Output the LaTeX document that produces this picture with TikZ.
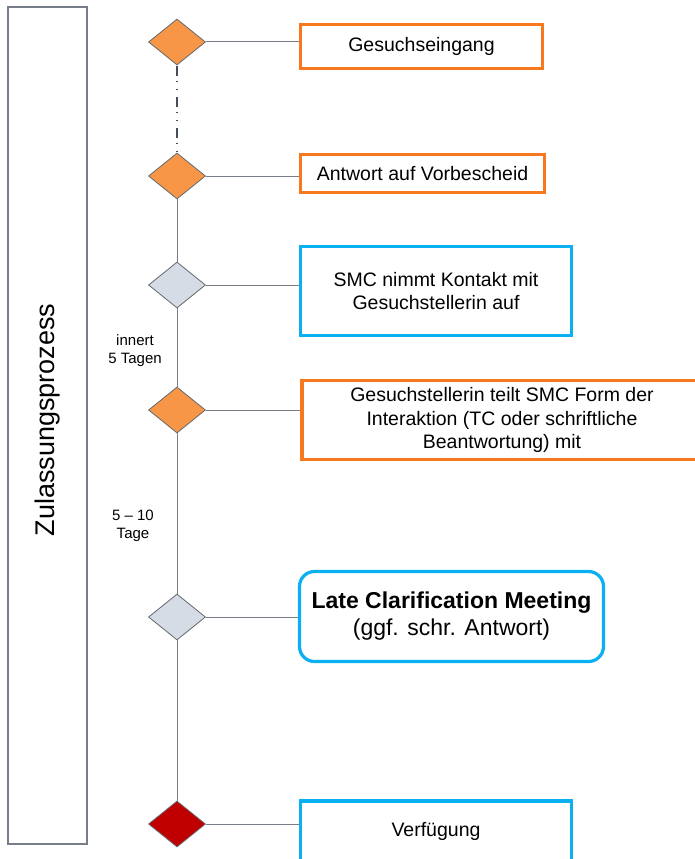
\documentclass[tikz,border=0pt]{standalone}
\usepackage{fontspec}
\setmainfont{Liberation Sans}
\usetikzlibrary{shapes.geometric}
\definecolor{orangefill}{RGB}{247,150,70}
\definecolor{orangeline}{RGB}{247,120,30}
\definecolor{blueline}{RGB}{10,176,240}
\definecolor{grayfill}{RGB}{214,220,229}
\definecolor{redfill}{RGB}{192,0,0}
\definecolor{diaborder}{RGB}{100,104,110}
\definecolor{conn}{RGB}{120,126,136}
\definecolor{darkconn}{RGB}{70,78,92}
\tikzset{
  dia/.style={diamond, draw=diaborder, line width=0.8pt, inner sep=0pt,
    minimum width=57pt, minimum height=46pt},
  boxtext/.style={align=center, font=\fontsize{19.5}{23.5}\selectfont, inner sep=0pt},
  obox/.style={boxtext, draw=orangeline, line width=3.2pt, fill=white},
  bbox/.style={boxtext, draw=blueline, line width=3.2pt, fill=white},
  link/.style={draw=conn, line width=1pt},
  smalllabel/.style={align=center, font=\fontsize{15}{18}\selectfont, inner sep=0pt}
}
\begin{document}
\begin{tikzpicture}[x=1pt,y=-1pt]
\path[use as bounding box] (0,0) rectangle (695,859);
\clip (0,0) rectangle (695,859);
\fill[white] (0,0) rectangle (695,859);
% left band
\draw[draw=conn, line width=1.3pt, fill=white] (8,7) rectangle (87,844);
\node[rotate=90, font=\fontsize{27}{30}\selectfont, inner sep=0pt] (title) at (48,420) {Zulassungsprozess};
% diamonds
\node[dia, fill=orangefill] (d1) at (177,42) {};
\node[dia, fill=orangefill] (d2) at (177,176) {};
\node[dia, fill=grayfill] (d3) at (177,285) {};
\node[dia, fill=orangefill] (d4) at (177,410) {};
\node[dia, fill=grayfill] (d5) at (177,617) {};
\node[dia, fill=redfill] (d6) at (177,824) {};
% boxes
\node[obox, minimum width=242pt, minimum height=44pt] (b1) at (421.5,46.5) {Gesuchseingang};
\node[obox, minimum width=244pt, minimum height=38pt] (b2) at (422.5,173.5) {Antwort auf Vorbescheid};
\node[bbox, minimum width=271pt, minimum height=89pt] (b3) at (436,291) {SMC nimmt Kontakt mit\\Gesuchstellerin auf};
\node[obox, minimum width=400pt, minimum height=79pt] (b4) at (502,420) {Gesuchstellerin teilt SMC Form der\\Interaktion (TC oder schriftliche\\Beantwortung) mit};
\node[bbox, rounded corners=15pt, minimum width=304pt, minimum height=90pt,
  font=\fontsize{23}{27}\selectfont] (b5) at (451.5,616.5) {\textbf{Late Clarification Meeting}\\(ggf. schr. Antwort)};
\node[bbox, minimum width=271pt, minimum height=60pt] (b6) at (436,831) {Verfügung};
% vertical timeline
\draw[draw=darkconn, line width=1.4pt, dash pattern=on 10pt off 5pt on 1pt off 7pt on 1pt off 7pt]
  ([yshift=-1pt]d1.south) -- (d2.north);
\draw[link] (d2.south) -- (d3.north);
\draw[link] (d3.south) -- (d4.north);
\draw[link] (d4.south) -- (d5.north);
\draw[link] (d5.south) -- (d6.north);
% horizontal connectors
\draw[link] (d1.east) -- (d1.east -| b1.west);
\draw[link] (d2.east) -- (d2.east -| b2.west);
\draw[link] (d3.east) -- (d3.east -| b3.west);
\draw[link] (d4.east) -- (d4.east -| b4.west);
\draw[link] (d5.east) -- (d5.east -| b5.west);
\draw[link] (d6.east) -- (d6.east -| b6.west);
% labels
\node[smalllabel] (l1) at (135,351) {innert\\5 Tagen};
\node[smalllabel] (l2) at (133,526) {5 – 10\\Tage};
\end{tikzpicture}
\end{document}
